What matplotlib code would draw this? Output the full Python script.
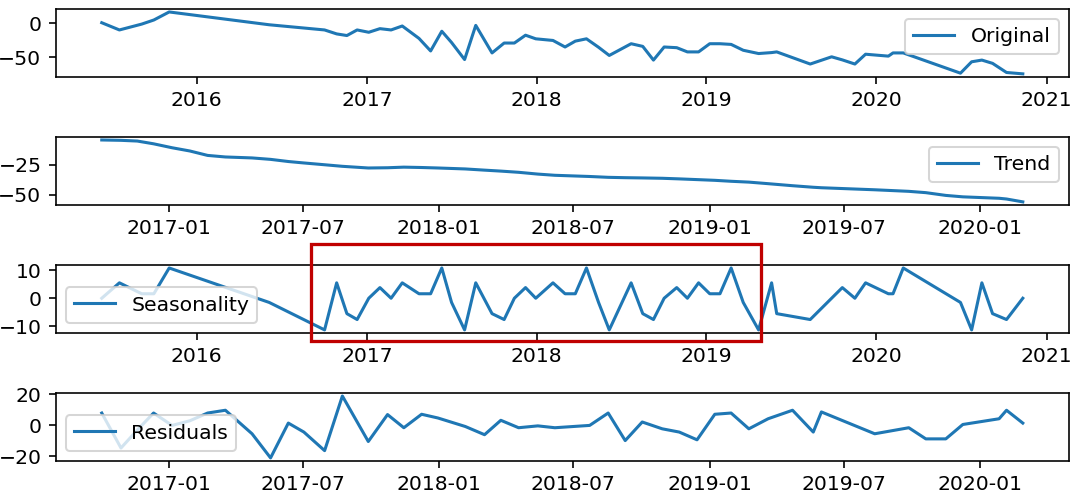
import matplotlib
matplotlib.use("Agg")
import matplotlib.pyplot as plt
import matplotlib.dates as mdates
from matplotlib.patches import Rectangle
import pandas as pd

# observation dates (irregular spacing)
dates = pd.to_datetime([
    "2015-06-11", "2015-07-19", "2015-09-05", "2015-10-01", "2015-11-03",
    "2016-06-05", "2016-10-02", "2016-10-28", "2016-11-19", "2016-12-11",
    "2017-01-05", "2017-01-29", "2017-02-22", "2017-03-18", "2017-04-23",
    "2017-05-18", "2017-06-11", "2017-07-02", "2017-07-30", "2017-08-23",
    "2017-09-27", "2017-10-23", "2017-11-14", "2017-12-08", "2017-12-30",
    "2018-02-05", "2018-03-03", "2018-03-25", "2018-04-18", "2018-05-14",
    "2018-06-06", "2018-07-23", "2018-08-17", "2018-09-09", "2018-10-02",
    "2018-10-29", "2018-11-21", "2018-12-15", "2019-01-08", "2019-01-30",
    "2019-02-23", "2019-03-21", "2019-04-23", "2019-05-21", "2019-06-01",
    "2019-08-12", "2019-09-27", "2019-10-20", "2019-11-16", "2019-12-09",
    "2020-01-27", "2020-02-06", "2020-02-28", "2020-06-30", "2020-07-24",
    "2020-08-15", "2020-09-07", "2020-10-07", "2020-11-11",
])

original = [
    1, -9.6, -1, 5, 16.8, -2, -9.6, -15.4, -17.8, -9.6,
    -13, -7.7, -9.6, -3.8, -22, -40.4, -11.5, -28, -53, -2.9,
    -43.3, -28.8, -28.8, -17.3, -22.6, -25, -34.6, -26, -22.6, -35,
    -47, -29.8, -33.7, -53.8, -34.6, -35.6, -41.8, -41.8, -29.8, -29.8,
    -30.8, -39.4, -44.2, -42.8, -41.8, -59.6, -49, -53.5, -59.6, -45.2,
    -48, -43.3, -43.3, -73, -56.3, -53.8, -58.6, -72, -74,
]

seasonal = [
    0, 5.5, 1.6, 1.6, 10.8, -1.5, -11.3, 5.5, -5.5, -7.6, 0, 3.8,
    0, 5.5, 1.6, 1.6, 10.8, -1.5, -11.3, 5.5, -5.5, -7.6, 0, 3.8,
    0, 5.5, 1.6, 1.6, 10.8, -1.5, -11.3, 5.5, -5.5, -7.6, 0, 3.8,
    0, 5.5, 1.6, 1.6, 10.8, -1.5, -11.3, 5.5, -5.5, -7.6, 0, 3.8,
    0, 5.5, 1.6, 1.6, 10.8, -1.5, -11.3, 5.5, -5.5, -7.6, 0,
]

# trend / residuals only exist for the middle observations (6 .. 52)
trend = [
    -4.3, -4.6, -5.2, -7.5, -10.8, -13.5, -17.2, -18.5, -19.3, -20.5,
    -22.3, -23.5, -25, -26.3, -27.7, -27.5, -27, -27.3, -27.7, -28.5,
    -29.5, -30.3, -31.3, -32.8, -33.8, -34.8, -35.5, -35.8, -36, -36.3,
    -36.8, -37.4, -38, -38.8, -39.5, -40.8, -42.5, -43.8, -44.2, -45.9,
    -47.2, -48.3, -50.6, -51.8, -53, -53.6, -56,
]

residuals = [
    8, -14.6, -3, 8, 0, 3, 8, 9.8, -5.4, -21,
    1.5, -4.3, -16.3, 19, -10.4, 7, -1.5, 7.2, 4.8, -0.7,
    -6, 3.3, -1.5, -0.3, -1.5, 0, 8, -9.8, 2.2, -2.2,
    -4.3, -9.3, 7.2, 8, -2.2, 4.3, 9.8, -4.3, 8.7, -5.4,
    -1.5, -8.7, -8.7, 0.6, 4.3, 9.8, 1.5,
]

mid_dates = dates[6:6 + len(trend)]

fig, axes = plt.subplots(4, 1, figsize=(1071 / 147, 492 / 147), dpi=147)
plt.subplots_adjust(left=0.052, right=0.998, top=0.982, bottom=0.063, hspace=0.88)

axes[0].plot(dates, original, label='Original')
axes[0].legend(loc='upper right')
axes[0].set_yticks([-50, 0])

axes[1].plot(mid_dates, trend, label='Trend')
axes[1].legend(loc='upper right')
axes[1].set_yticks([-50, -25])

axes[2].plot(dates, seasonal, label='Seasonality')
axes[2].legend(loc='lower left')
axes[2].set_yticks([-10, 0, 10])

axes[3].plot(mid_dates, residuals, label='Residuals')
axes[3].legend(loc='lower left')
axes[3].set_yticks([-20, 0, 20])

for ax in (axes[0], axes[2]):
    ax.xaxis.set_major_locator(mdates.YearLocator())
    ax.xaxis.set_major_formatter(mdates.DateFormatter('%Y'))
for ax in (axes[1], axes[3]):
    ax.xaxis.set_major_locator(mdates.MonthLocator(bymonth=[1, 7]))
    ax.xaxis.set_major_formatter(mdates.DateFormatter('%Y-%m'))

# red highlight box drawn over the seasonality panel
box = Rectangle((311 / 1071, 1 - 341 / 492), 450 / 1071, 97 / 492,
                transform=fig.transFigure, fill=False, edgecolor='#c00000',
                linewidth=1.6, clip_on=False)
fig.patches.append(box)

fig.savefig('out.png', dpi=147)
